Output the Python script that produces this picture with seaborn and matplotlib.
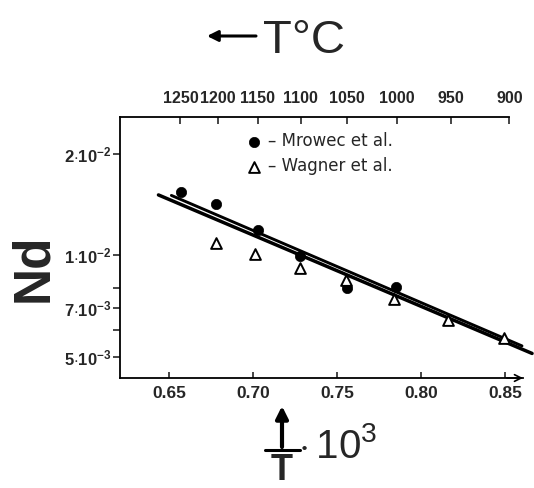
import numpy as np
import pandas as pd
import matplotlib
matplotlib.use("Agg")
import matplotlib.pyplot as plt
from matplotlib.lines import Line2D
import seaborn as sns

# ---- data ----
mrowec_x = [0.657, 0.678, 0.703, 0.728, 0.756, 0.785]
mrowec_y = [1.54e-2, 1.42e-2, 1.19e-2, 0.996e-2, 8.0e-3, 8.06e-3]

wagner_x = [0.678, 0.701, 0.728, 0.755, 0.784, 0.816, 0.849]
wagner_y = [1.088e-2, 1.01e-2, 9.18e-3, 8.46e-3, 7.43e-3, 6.44e-3, 5.69e-3]

lineA_x = [0.6435, 0.8660]
lineA_y = [1.51e-2, 5.12e-3]
lineB_x = [0.6512, 0.8600]
lineB_y = [1.505e-2, 5.39e-3]

x_ticks = [0.65, 0.70, 0.75, 0.80, 0.85]
x_ticklabels = ["0.65", "0.70", "0.75", "0.80", "0.85"]
y_ticks = [2e-2, 1e-2, 7e-3, 5e-3]
y_ticklabels = [r"$\mathbf{2{\cdot}10^{-2}}$", r"$\mathbf{1{\cdot}10^{-2}}$",
                r"$\mathbf{7{\cdot}10^{-3}}$", r"$\mathbf{5{\cdot}10^{-3}}$"]
y_minor = [8e-3, 6e-3]
top_T = [1250, 1200, 1150, 1100, 1050, 1000, 950, 900]
legend_labels = ["– Mrowec et al.", "– Wagner et al."]

sns.set_style("ticks")
FAM = ["Liberation Sans", "DejaVu Sans"]
plt.rcParams["font.family"] = FAM
plt.rcParams["mathtext.fontset"] = "custom"
plt.rcParams["mathtext.rm"] = "Liberation Sans"
plt.rcParams["mathtext.bf"] = "Liberation Sans:bold"

W, H = 534, 488
fig = plt.figure(figsize=(W / 100, H / 100), dpi=100)
ax = fig.add_axes([120 / W, 1 - 378 / H, (523 - 120) / W, (378 - 117) / H])

ax.set_yscale("log")
ax.set_xlim(0.6206, 0.8606)
ax.set_ylim(4.33e-3, 2.57e-2)

sns.lineplot(x=lineA_x, y=lineA_y, ax=ax, color="black", lw=2.5, clip_on=False, legend=False)
sns.lineplot(x=lineB_x, y=lineB_y, ax=ax, color="black", lw=2.1, clip_on=False, legend=False)

sns.scatterplot(x=mrowec_x, y=mrowec_y, ax=ax, marker="o", s=55, color="black",
                edgecolor="black", linewidth=0.5, label=legend_labels[0], zorder=5)
sns.scatterplot(x=wagner_x, y=wagner_y, ax=ax, marker="^", s=60, facecolor="white",
                edgecolor="black", linewidth=1.4, label=legend_labels[1], zorder=5)

# spines
ax.spines["right"].set_visible(False)
ax.spines["top"].set_bounds(0.6206, 1000.0 / (900 + 273))
for s in ["left", "bottom", "top"]:
    ax.spines[s].set_linewidth(1.3)
    ax.spines[s].set_color("black")

# bottom ticks
ax.set_xticks(x_ticks, labels=x_ticklabels)
ax.tick_params(axis="x", which="both", direction="in", length=4, width=1.2, pad=6,
               labelsize=12.5)
for t in ax.get_xticklabels():
    t.set_fontweight("bold")

# y ticks
ax.set_yticks(y_ticks, labels=y_ticklabels)
ax.yaxis.set_minor_locator(matplotlib.ticker.FixedLocator(y_minor))
ax.yaxis.set_minor_formatter(matplotlib.ticker.NullFormatter())
ax.tick_params(axis="y", which="both", direction="out", length=5, width=1.2, pad=1,
               labelsize=12)

# top axis in degrees C
secax = ax.secondary_xaxis("top", functions=(lambda x: 1000.0 / np.asarray(x, float) - 273.0,
                                             lambda t: 1000.0 / (np.asarray(t, float) + 273.0)))
secax.set_xticks(top_T, labels=[str(t) for t in top_T])
secax.spines["top"].set_visible(False)
secax.tick_params(direction="in", length=5, width=1.2, pad=8, labelsize=11.5)
for t in secax.get_xticklabels():
    t.set_fontweight("bold")

# x-axis arrow head
ax.annotate("", xy=(1.0, 0), xytext=(0.96, 0), xycoords="axes fraction",
            arrowprops=dict(arrowstyle="->", lw=1.2, color="black",
                            shrinkA=0, shrinkB=0, mutation_scale=12))

# legend
leg = ax.legend(loc="upper left", bbox_to_anchor=(237 / W, 1 - 124 / H),
                bbox_transform=fig.transFigure, frameon=False, borderpad=0,
                handlelength=1.0, handletextpad=0.35, labelspacing=0.4,
                prop={"family": "DejaVu Sans", "size": 12})

# top title: arrow + T°C
ax.annotate("", xy=(207 / W, 1 - 36 / H), xytext=(256 / W, 1 - 36 / H),
            xycoords="figure fraction",
            arrowprops=dict(arrowstyle="-|>", lw=2.2, color="black",
                            shrinkA=0, shrinkB=0, mutation_scale=16))
fig.text(263 / W, 1 - 53 / H, "T°C", ha="left", va="baseline",
         fontsize=34, family=FAM)
fig.text(34 / W, 1 - 268 / H, "Nd", ha="center", va="center", rotation=90,
         fontsize=37, fontweight="bold", family=FAM)

# bottom label: up arrow over T, then ·10^3
ax.annotate("", xy=(282 / W, 1 - 406 / H), xytext=(282 / W, 1 - 447 / H),
            xycoords="figure fraction",
            arrowprops=dict(arrowstyle="-|>", lw=3, color="black",
                            shrinkA=0, shrinkB=0, mutation_scale=18))
fig.add_artist(Line2D([265 / W, 300 / W], [1 - 450 / H, 1 - 450 / H],
                      transform=fig.transFigure, color="black", lw=2.2))
fig.text(282 / W, 1 - 480 / H, "T", ha="center", va="baseline", fontsize=26,
         fontweight="bold", family=FAM)
fig.text(298 / W, 1 - 458 / H, r"$\cdot\,10^{3}$", ha="left", va="baseline",
         fontsize=29, family=FAM)

fig.savefig("out.png", dpi=100)
